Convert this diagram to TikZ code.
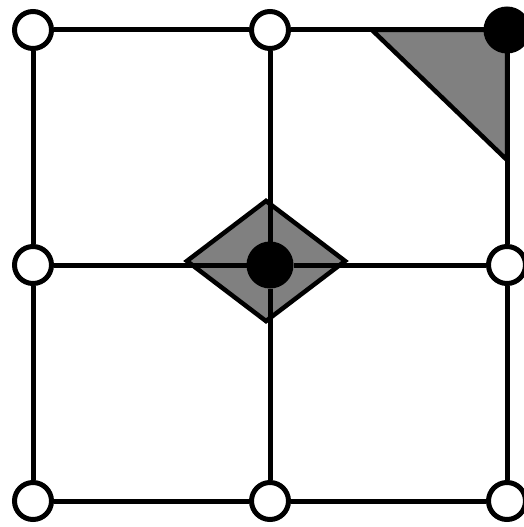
\documentclass[tikz,border=0pt]{standalone}
\usepackage{tikz}
\usepackage{xcolor}
\definecolor{meshShade}{HTML}{808080}
\definecolor{meshLine}{HTML}{000000}
\usetikzlibrary{shapes.geometric}

\begin{document}
\begin{tikzpicture}[x=1pt, y=-1pt]
  \useasboundingbox (0,0) rectangle (524,527);
  \filldraw[fill=meshShade, draw=meshLine, line width=4.5pt] (372,30) -- (507,30) -- (507,160) -- cycle;
  \node[diamond, draw=meshLine, line width=4.5pt, fill=meshShade, minimum width=160pt, minimum height=122pt, inner sep=0pt] (K) at (266,261) {};
  \node[circle, draw=meshLine, line width=5pt, minimum size=37pt, inner sep=0pt, fill=white] (A) at (33,30) {};
  \node[circle, draw=meshLine, line width=5pt, minimum size=37pt, inner sep=0pt, fill=white] (B) at (270,30) {};
  \node[circle, draw=meshLine, line width=5pt, minimum size=42pt, inner sep=0pt, fill=meshLine] (C) at (507,30) {};
  \node[circle, draw=meshLine, line width=5pt, minimum size=37pt, inner sep=0pt, fill=white] (D) at (33,265) {};
  \node[circle, draw=meshLine, line width=5pt, minimum size=42pt, inner sep=0pt, fill=meshLine] (E) at (270,265) {};
  \node[circle, draw=meshLine, line width=5pt, minimum size=37pt, inner sep=0pt, fill=white] (F) at (507,265) {};
  \node[circle, draw=meshLine, line width=5pt, minimum size=37pt, inner sep=0pt, fill=white] (G) at (33,501) {};
  \node[circle, draw=meshLine, line width=5pt, minimum size=37pt, inner sep=0pt, fill=white] (H) at (270,501) {};
  \node[circle, draw=meshLine, line width=5pt, minimum size=37pt, inner sep=0pt, fill=white] (I) at (507,501) {};
  \draw[meshLine, line width=5pt] (A) -- (B);
  \draw[meshLine, line width=5pt] (B) -- (C);
  \draw[meshLine, line width=5pt] (A) -- (D);
  \draw[meshLine, line width=5pt] (B) -- (E);
  \draw[meshLine, line width=5pt] (C) -- (F);
  \draw[meshLine, line width=5pt] (D) -- (E);
  \draw[meshLine, line width=5pt] (E) -- (F);
  \draw[meshLine, line width=5pt] (D) -- (G);
  \draw[meshLine, line width=5pt] (E) -- (H);
  \draw[meshLine, line width=5pt] (F) -- (I);
  \draw[meshLine, line width=5pt] (G) -- (H);
  \draw[meshLine, line width=5pt] (H) -- (I);
\end{tikzpicture}
\end{document}
